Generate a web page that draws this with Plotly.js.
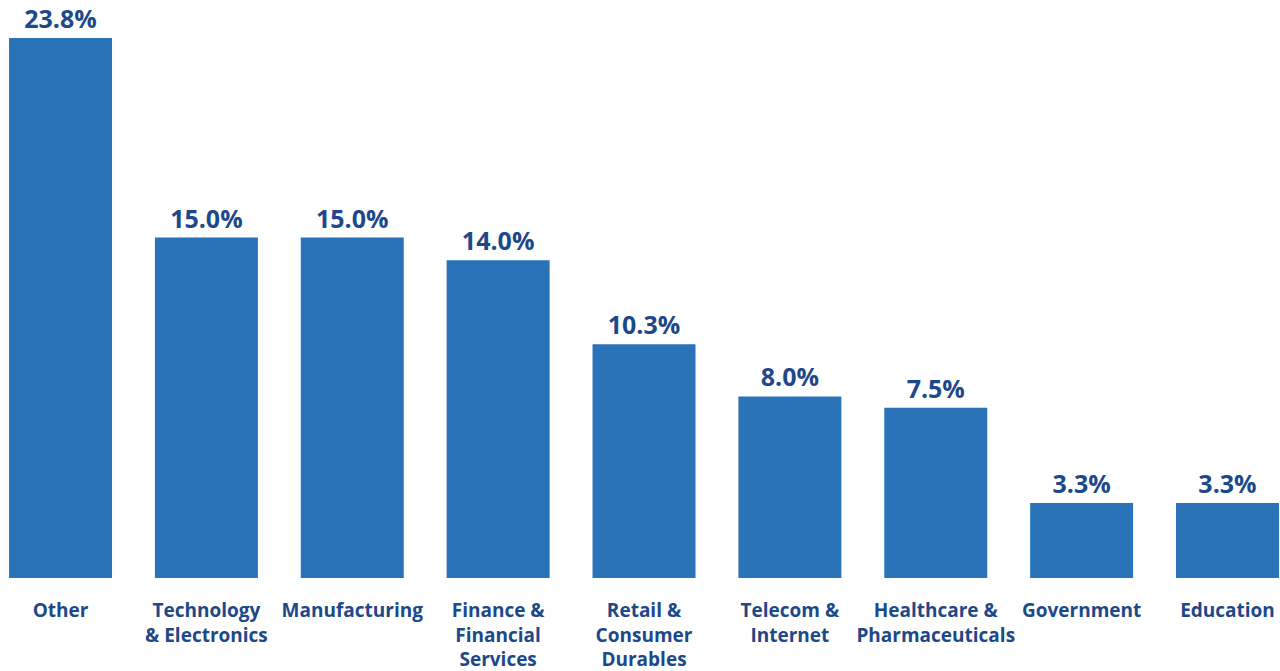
<!DOCTYPE html>
<html>
<head>
<meta charset="utf-8">
<script src="https://cdn.plot.ly/plotly-3.0.1.min.js"></script>
<style>html,body{margin:0;padding:0;background:#fff;}#chart{width:1280px;height:671px;}</style>
</head>
<body>
<div id="chart"></div>
<script>
const categories = ["Other", "Technology<br>& Electronics", "Manufacturing", "Finance &<br>Financial<br>Services", "Retail &<br>Consumer<br>Durables", "Telecom &<br>Internet", "Healthcare &<br>Pharmaceuticals", "Government", "Education"];
const shares = [23.8, 15.0, 15.0, 14.0, 10.3, 8.0, 7.5, 3.3, 3.3];
const valueLabels = shares.map(v => v.toFixed(1) + "%");

const barColor = "#2a73b8";
const textColor = "#1d4889";

const trace = {
  type: "bar",
  x: categories,
  y: shares,
  marker: {color: barColor},
  text: valueLabels,
  textposition: "outside",
  cliponaxis: false,
  textfont: {family: "Open Sans", size: 25, color: textColor, weight: 700},
  hoverinfo: "none"
};

const layout = {
  width: 1280,
  height: 671,
  margin: {l: 0, r: 0, t: 0, b: 93},
  paper_bgcolor: "#ffffff",
  plot_bgcolor: "#ffffff",
  bargap: 0.294,
  showlegend: false,
  xaxis: {
    type: "category",
    range: [-0.415, 8.36],
    showgrid: false,
    zeroline: false,
    showline: false,
    ticks: "outside",
    ticklen: 15,
    tickcolor: "rgba(0,0,0,0)",
    tickfont: {family: "Open Sans", size: 19, color: textColor, weight: 700},
    fixedrange: true
  },
  yaxis: {
    range: [0, 25.47],
    visible: false,
    showgrid: false,
    zeroline: false,
    fixedrange: true
  }
};

Plotly.newPlot("chart", [trace], layout, {displayModeBar: false, staticPlot: true});
</script>
</body>
</html>
